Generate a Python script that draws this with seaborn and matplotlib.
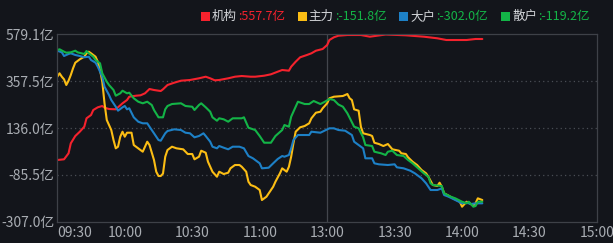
import matplotlib
matplotlib.use("Agg")
import matplotlib.pyplot as plt
import seaborn as sns
import pandas as pd
from matplotlib.patches import Rectangle

# ---------------- data (minutes after 09:30 in trading time, values in 亿) -------------
series_names = ["机构", "主力", "大户", "散户"]
legend_values = ["557.7亿", "-151.8亿", "-302.0亿", "-119.2亿"]

jg_min = [0, 3, 5, 6, 8, 10, 12, 13, 15, 16, 18, 20, 21, 23, 26, 27, 29, 31, 32, 35, 37, 39, 41, 43,
          46, 47, 49, 52, 55, 59, 63, 66, 68, 70, 72, 76, 79, 82, 86, 88, 92, 95, 98, 100, 103, 104,
          106, 108, 111, 113, 115, 118, 120, 121, 123, 125, 129, 135, 139, 146, 155, 163, 169, 173,
          182, 186, 189]
jg_val = [-15.6, -12.3, 16.1, 63.5, 98.1, 118.5, 142.2, 182.0, 197.6, 221.3, 234.1, 240.3, 232.2,
          226.0, 224.6, 234.1, 253.1, 268.7, 284.3, 289.1, 291.0, 300.4, 320.8, 316.1, 311.3, 319.4,
          339.8, 350.7, 360.2, 363.5, 371.5, 379.1, 371.5, 362.1, 363.5, 371.5, 379.1, 382.4, 379.1,
          379.1, 383.9, 390.5, 402.8, 410.9, 407.6, 426.5, 450.2, 471.1, 482.0, 490.0, 502.3, 510.4,
          529.3, 553.0, 565.8, 573.4, 576.7, 576.7, 568.7, 579.0, 575.3, 568.7, 561.1, 553.0, 553.0,
          557.8, 557.7]

zl_min = [0, 1, 2, 3, 4, 5, 6, 7, 8, 10, 12, 13, 14, 15, 17, 18, 19, 20, 21, 22, 23, 24, 25, 26,
          27, 28, 29, 30, 31, 33, 34, 36, 38, 40, 41, 43, 44, 45, 46, 47, 48, 49, 51, 53, 55, 56, 58,
          60, 61, 63, 64, 66, 67, 69, 71, 72, 74, 76, 77, 79, 81, 82, 84, 85, 86, 88, 90, 91, 93, 94,
          96, 97, 99, 100, 102, 103, 104, 105, 106, 108, 110, 112, 113, 115, 117, 118, 120, 121, 123,
          127, 129, 130, 131, 132, 134, 135, 136, 139, 140, 141, 143, 145, 147, 149, 152, 153, 155,
          156, 158, 160, 162, 164, 165, 167, 169, 170, 171, 172, 174, 176, 179, 180, 182, 183, 185,
          186, 187, 189]
zl_val = [379.1, 395.2, 379.1, 366.8, 339.8, 360.2, 387.2, 418.9, 445.5, 461.6, 473.9, 490.0, 497.6,
          490.0, 473.9, 450.2, 410.9, 355.4, 253.1, 173.9, 150.2, 126.5, 79.1, 39.8, 47.4, 94.8,
          118.5, 94.8, 113.7, 113.7, 55.4, 39.8, 23.7, 71.1, 55.4, -15.6, -71.1, -91.5, -91.5, -80.0,
          0.0, 31.7, 47.4, 39.8, 36.5, 34.9, 12.8, 12.8, -12.3, 0.0, 28.4, 18.9, -23.7, -71.1, -94.8,
          -71.1, -82.0, -75.8, -55.0, -39.3, -39.3, -47.4, -71.1, -118.5, -134.1, -142.2, -157.8,
          -205.2, -189.6, -173.5, -142.2, -118.5, -78.7, -55.0, -71.1, -47.4, 0.0, 63.5, 118.5, 139.3,
          145.5, 158.3, 182.0, 208.5, 213.2, 229.4, 253.1, 276.8, 284.3, 287.7, 297.1, 276.8, 268.7,
          224.6, 218.0, 142.2, 110.9, 102.8, 98.1, 66.3, 60.2, 50.7, 60.2, 35.1, 28.4, 16.1, 12.8,
          -2.9, -23.7, -39.3, -63.0, -78.7, -94.8, -134.1, -138.9, -123.2, -142.2, -173.5, -184.8,
          -197.2, -213.3, -236.9, -213.3, -218.0, -232.2, -220.9, -197.2, -205.2]

dh_min = [0, 2, 3, 5, 6, 8, 10, 12, 14, 15, 17, 18, 20, 21, 23, 24, 26, 27, 29, 30, 31, 32, 34, 36,
          38, 40, 41, 43, 45, 46, 48, 49, 52, 55, 57, 59, 61, 63, 65, 66, 68, 69, 71, 72, 74, 76, 78,
          81, 83, 85, 87, 90, 91, 94, 96, 98, 100, 101, 103, 104, 105, 107, 112, 113, 117, 121, 123,
          125, 128, 131, 132, 134, 136, 137, 140, 141, 143, 147, 150, 151, 154, 157, 159, 162, 164,
          166, 169, 171, 172, 174, 177, 180, 182, 184, 186, 189]
dh_val = [502.3, 494.7, 477.2, 486.7, 490.0, 482.0, 477.2, 471.1, 473.9, 458.3, 445.5, 426.5, 379.1,
          331.7, 292.4, 268.7, 236.9, 218.0, 234.1, 240.3, 224.6, 229.4, 186.7, 165.9, 158.3, 158.3,
          142.2, 110.9, 79.1, 75.8, 110.9, 121.8, 129.8, 126.5, 113.7, 110.9, 91.9, 98.1, 110.9, 98.1,
          71.1, 47.4, 39.8, 50.7, 42.6, 35.1, 47.4, 47.4, 39.8, 3.3, -7.6, -31.3, -55.0, -52.1, -31.3,
          -10.9, 3.3, 0.0, 8.1, 39.8, 79.1, 102.8, 102.8, 118.5, 113.7, 134.6, 134.6, 126.5, 123.2,
          102.8, 71.1, 55.4, 39.8, -7.6, -7.6, -31.3, -36.0, -39.3, -36.0, -50.2, -55.0, -66.4, -78.7,
          -102.4, -126.1, -157.8, -157.8, -149.8, -181.5, -189.6, -205.2, -220.9, -218.0, -224.2,
          -220.9, -220.9]

sh_min = [0, 1, 3, 4, 6, 8, 9, 12, 13, 14, 16, 17, 19, 20, 22, 23, 25, 26, 28, 29, 31, 32, 34, 36,
          38, 40, 42, 43, 45, 47, 48, 49, 51, 55, 57, 60, 61, 63, 64, 66, 68, 69, 71, 72, 74, 76, 78,
          82, 83, 85, 88, 90, 92, 95, 97, 100, 101, 103, 104, 106, 107, 110, 112, 114, 117, 119, 121,
          123, 125, 127, 129, 132, 134, 136, 137, 140, 141, 144, 146, 147, 149, 151, 154, 156, 158,
          160, 163, 165, 166, 167, 169, 171, 172, 175, 177, 180, 182, 183, 185, 186, 187, 189]
sh_val = [505.6, 509.0, 497.6, 492.9, 494.7, 502.3, 494.7, 486.7, 500.9, 490.0, 473.9, 458.3, 442.6,
          395.2, 355.4, 339.8, 316.1, 289.1, 300.4, 312.8, 300.4, 303.3, 276.8, 260.6, 253.1, 260.6,
          245.0, 221.3, 186.7, 186.7, 224.6, 240.3, 249.7, 253.1, 240.3, 236.9, 221.3, 245.0, 253.1,
          234.1, 213.2, 186.7, 170.6, 182.0, 177.2, 165.9, 182.0, 182.0, 186.7, 137.4, 126.5, 98.1,
          66.3, 66.3, 98.1, 126.5, 150.2, 142.2, 189.6, 236.9, 260.6, 249.7, 249.7, 264.0, 249.7,
          260.6, 273.4, 268.7, 247.4, 236.9, 205.7, 142.2, 134.6, 91.9, 55.4, 50.7, 23.7, 16.1, 8.1,
          23.7, 28.4, 8.1, 3.3, -15.6, -31.3, -50.2, -78.7, -94.8, -126.1, -134.1, -136.5, -138.9,
          -173.5, -189.6, -197.2, -213.3, -220.9, -213.3, -236.9, -233.6, -213.3, -213.3]

y_ticks = [579.1, 357.5, 136.0, -85.5, -307.0]
x_ticks = [0, 30, 60, 90, 120, 150, 180, 210, 240]
x_labels = ["09:30", "10:00", "10:30", "11:00", "13:00", "13:30", "14:00", "14:30", "15:00"]

colors = ["#f5222d", "#fbbd14", "#1d80c6", "#13b447"]
value_colors = ["#f5222d", "#13b447", "#13b447", "#13b447"]

# ---------------- build table ----------------
frames = []
for name, mins, vals in zip(series_names, [jg_min, zl_min, dh_min, sh_min],
                            [jg_val, zl_val, dh_val, sh_val]):
    frames.append(pd.DataFrame({"minute": mins, "value": vals, "series": name}))
df = pd.concat(frames, ignore_index=True)

# ---------------- style ----------------
bg = "#13151b"
sns.set_theme(style="dark")
plt.rcParams["font.family"] = ["Noto Sans CJK SC", "DejaVu Sans"]
plt.rcParams["axes.unicode_minus"] = False

fig = plt.figure(figsize=(6.13, 2.43), dpi=100, facecolor=bg)
ax = fig.add_axes([57.3 / 613, 21.5 / 243, (597 - 57.3) / 613, (221.5 - 34.5) / 243])
ax.set_facecolor(bg)

sns.lineplot(data=df, x="minute", y="value", hue="series", hue_order=series_names,
             palette=colors, estimator=None, sort=True, legend=False, linewidth=1.5, ax=ax)

ax.set_xlim(0, 240)
ax.set_ylim(y_ticks[-1], y_ticks[0])
ax.set_xlabel("")
ax.set_ylabel("")

ax.set_yticks(y_ticks)
ax.set_yticklabels([f"{v:.1f}亿" for v in y_ticks])
ax.set_xticks(x_ticks)
ax.set_xticklabels(x_labels)
ax.get_xticklabels()[0].set_horizontalalignment("left")

tick_color = "#a9adb3"
ax.tick_params(axis="both", colors=tick_color, labelsize=10, length=0, pad=2)
ax.tick_params(axis="x", length=3, color="#3e4148", pad=0.5)

# grid: dotted horizontal at middle ticks, solid vertical at 13:00
ax.grid(False)
for v in y_ticks[1:-1]:
    ax.axhline(v, color="#4a4d55", linestyle=(0, (1, 2.5)), linewidth=0.9, zorder=0)
ax.axvline(120, color="#43464d", linewidth=0.9, zorder=0)

for s in ax.spines.values():
    s.set_color("#3e4148")
    s.set_linewidth(0.9)
    s.set_visible(True)

# ---------------- custom legend on top ----------------
fig_w, fig_h = 613, 243
item_x = [201, 297.7, 399.2, 501.2]
y_mid = 16.5
name_color = "#d2d4d8"
renderer = fig.canvas.get_renderer()
for i in range(4):
    x0 = item_x[i]
    fig.patches.append(Rectangle((x0 / fig_w, (fig_h - y_mid - 4.5) / fig_h), 9 / fig_w, 9 / fig_h,
                                 transform=fig.transFigure, facecolor=colors[i], edgecolor="none"))
    t1 = fig.text((x0 + 11) / fig_w, (fig_h - y_mid) / fig_h, series_names[i], color=name_color,
                  fontsize=9, va="center", ha="left")
    bb = t1.get_window_extent(renderer=renderer)
    fig.text(bb.x1 / fig_w + 1 / fig_w, (fig_h - y_mid) / fig_h, ":" + legend_values[i],
             color=value_colors[i], fontsize=9, va="center", ha="left")

fig.savefig("out.png", dpi=100, facecolor=bg)
